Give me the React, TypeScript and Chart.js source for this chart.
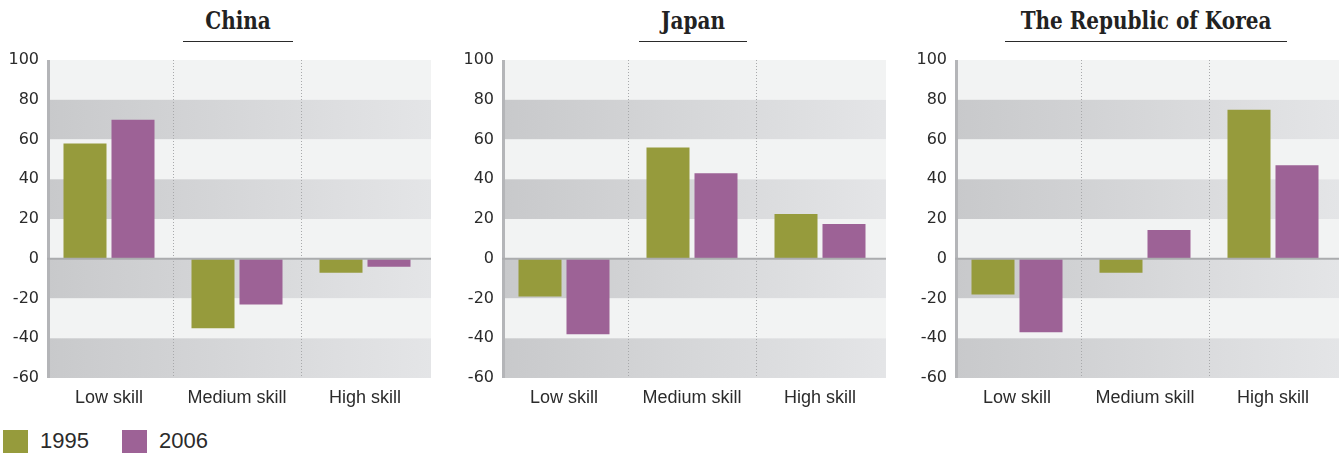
import React, { useEffect, useRef } from "react";
import { Chart, registerables } from "chart.js";

Chart.register(...registerables);

// Categories and tick settings
const SKILLS = ["Low skill", "Medium skill", "High skill"];
const Y_MIN = -60;
const Y_MAX = 100;
const Y_STEP = 20;

// Series values (percent change) per economy
const CHINA_1995 = [58, -35, -7];
const CHINA_2006 = [70, -23, -4];
const JAPAN_1995 = [-19, 56, 22.5];
const JAPAN_2006 = [-38, 43, 17.5];
const KOREA_1995 = [-18, -7, 75];
const KOREA_2006 = [-37, 14.5, 47];

const SERIES_NAMES = ["1995", "2006"];
const GREEN = "#969b3c";
const PURPLE = "#9d6296";

const CANVAS_W = 440;
const CANVAS_H = 420;
const BG_SHIFT = 2;

// Striped plot background, dotted category separators, axis bar and zero line
const plotDecor = {
  id: "plotDecor",
  beforeDatasetsDraw(chart: any) {
    const { ctx, chartArea, scales } = chart;
    const left = chartArea.left + BG_SHIFT;
    const right = chartArea.right + BG_SHIFT;
    const { top, bottom } = chartArea;
    const y = scales.y;
    const x = scales.x;
    ctx.save();
    const grad = ctx.createLinearGradient(left, 0, right, 0);
    grad.addColorStop(0, "#c8c9cb");
    grad.addColorStop(1, "#e4e5e7");
    let i = 0;
    for (let v = Y_MAX; v > Y_MIN; v -= Y_STEP) {
      const y0 = y.getPixelForValue(v);
      const y1 = y.getPixelForValue(v - Y_STEP);
      ctx.fillStyle = i % 2 === 0 ? "#f2f3f3" : grad;
      ctx.fillRect(left, y0, right - left, y1 - y0);
      i++;
    }
    // dotted separators between categories
    ctx.strokeStyle = "#a8a9ab";
    ctx.lineWidth = 1;
    ctx.setLineDash([1, 2]);
    for (let c = 0; c < SKILLS.length - 1; c++) {
      const xm = Math.round((x.getPixelForValue(c) + x.getPixelForValue(c + 1)) / 2) + 0.5;
      ctx.beginPath();
      ctx.moveTo(xm, top);
      ctx.lineTo(xm, bottom);
      ctx.stroke();
    }
    ctx.setLineDash([]);
    // left axis bar
    ctx.fillStyle = "#b4b5b8";
    ctx.fillRect(left, top, 3, bottom - top);
    ctx.restore();
  },
  afterDatasetsDraw(chart: any) {
    const { ctx, chartArea, scales } = chart;
    const y0 = scales.y.getPixelForValue(0);
    ctx.save();
    ctx.fillStyle = "#abacae";
    ctx.fillRect(chartArea.left + BG_SHIFT, y0 - 1, chartArea.right - chartArea.left, 2);
    ctx.restore();
  },
};

function Panel(props: {
  title: string;
  left: number;
  pad: number;
  a: number[];
  b: number[];
}) {
  const ref = useRef<HTMLCanvasElement | null>(null);

  useEffect(() => {
    if (!ref.current) return;
    const chart = new Chart(ref.current, {
      type: "bar",
      data: {
        labels: SKILLS,
        datasets: [
          {
            label: SERIES_NAMES[0],
            data: props.a,
            backgroundColor: GREEN,
            categoryPercentage: 0.75,
            barPercentage: 0.896,
          },
          {
            label: SERIES_NAMES[1],
            data: props.b,
            backgroundColor: PURPLE,
            categoryPercentage: 0.75,
            barPercentage: 0.896,
          },
        ],
      },
      options: {
        animation: false,
        responsive: false,
        maintainAspectRatio: false,
        layout: { padding: { top: 60, right: 11, left: 0, bottom: 0 } },
        plugins: {
          legend: { display: false },
          tooltip: { enabled: false },
        },
        scales: {
          x: {
            grid: { display: false, drawTicks: false },
            border: { display: false },
            ticks: {
              color: "#2b2b2b",
              padding: 9,
              maxRotation: 0,
              font: { family: "'Liberation Sans', Arial, sans-serif", size: 18 },
            },
            afterFit(s: any) {
              s.height = 42;
            },
          },
          y: {
            min: Y_MIN,
            max: Y_MAX,
            grid: { display: false, drawTicks: false },
            border: { display: false },
            ticks: {
              stepSize: Y_STEP,
              color: "#2b2b2b",
              padding: 6,
              font: { family: "'DejaVu Sans', sans-serif", size: 16 },
            },
            afterFit(s: any) {
              s.width = 45;
            },
          },
        },
      } as any,
      plugins: [plotDecor],
    });
    return () => chart.destroy();
  }, []);

  return (
    <>
      <div
        style={{
          position: "absolute",
          left: props.left + 38,
          top: 9,
          width: 400,
          textAlign: "center",
        }}
      >
        <span
          style={{
            display: "inline-block",
            lineHeight: "24px",
            padding: `0 ${props.pad}px 6px`,
            borderBottom: "1.5px solid #2a2a2a",
          }}
        >
          <span
            style={{
              display: "inline-block",
              fontFamily: "'DejaVu Serif', serif",
              fontWeight: "bold",
              fontSize: 20,
              color: "#222",
              transform: "scaleY(1.2)",
            }}
          >
            {props.title}
          </span>
        </span>
      </div>
      <canvas
        ref={ref}
        width={CANVAS_W}
        height={CANVAS_H}
        style={{
          position: "absolute",
          left: props.left,
          top: 0,
          width: CANVAS_W,
          height: CANVAS_H,
        }}
      />
    </>
  );
}

function LegendItem(props: { color: string; label: string; left: number }) {
  return (
    <>
      <div
        style={{
          position: "absolute",
          left: props.left,
          top: 430,
          width: 25,
          height: 25,
          background: props.color,
        }}
      />
      <div
        style={{
          position: "absolute",
          left: props.left + 37,
          top: 428,
          lineHeight: "26px",
          fontFamily: "'Liberation Sans', Arial, sans-serif",
          fontSize: 22,
          color: "#2b2b2b",
        }}
      >
        {props.label}
      </div>
    </>
  );
}

export default function App() {
  return (
    <div
      style={{
        position: "absolute",
        left: 0,
        top: 0,
        width: 1343,
        height: 453,
        overflow: "hidden",
        background: "#fff",
      }}
    >
      <Panel title="China" left={0} pad={22} a={CHINA_1995} b={CHINA_2006} />
      <Panel title="Japan" left={455} pad={22} a={JAPAN_1995} b={JAPAN_2006} />
      <Panel title="The Republic of Korea" left={908} pad={16} a={KOREA_1995} b={KOREA_2006} />
      <LegendItem color={GREEN} label={SERIES_NAMES[0]} left={3} />
      <LegendItem color={PURPLE} label={SERIES_NAMES[1]} left={122} />
    </div>
  );
}
